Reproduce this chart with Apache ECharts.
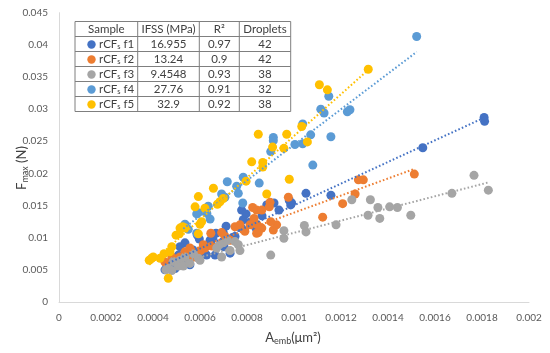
<!DOCTYPE html>
<html><head><meta charset="utf-8">
<script src="https://cdn.jsdelivr.net/npm/echarts@6/dist/echarts.min.js"></script>
<style>html,body{margin:0;padding:0;background:#fff}#c{width:550px;height:353px}</style>
</head><body><div id="c"></div>
<script>
// ---- data ----
const seriesNames = ['rCFs f1', 'rCFs f2', 'rCFs f3', 'rCFs f4', 'rCFs f5'];
const ifss = ['16.955', '13.24', '9.4548', '27.76', '32.9'];
const r2 = ['0.97', '0.9', '0.93', '0.91', '0.92'];
const droplets = ['42', '42', '38', '32', '38'];

const f1 = [[0.001809,0.0287],[0.001811,0.0281],[0.001548,0.0240],[0.001051,0.0169],[0.001157,0.0166],
[0.000980,0.0158],[0.000990,0.0154],[0.000986,0.0151],[0.000915,0.0154],[0.000884,0.0151],
[0.000784,0.0128],[0.000777,0.0115],[0.000749,0.0102],[0.000735,0.0099],[0.000668,0.0107],
[0.000699,0.0108],[0.000643,0.0096],[0.000640,0.0089],[0.000597,0.0098],[0.000536,0.0092],
[0.000628,0.0073],[0.000664,0.0073],[0.000557,0.0058],[0.000494,0.0052],[0.000589,0.0104],
[0.000654,0.0099],[0.000777,0.0143],[0.000728,0.0076],[0.000508,0.0073],[0.000472,0.0062],
[0.000613,0.0078],[0.000702,0.0086],[0.000813,0.0124],[0.000864,0.0134],[0.000838,0.0115],
[0.000936,0.0143],[0.000451,0.0050],[0.000570,0.0081],[0.000711,0.0118],[0.000796,0.0137],
[0.000540,0.0068],[0.000515,0.0086]];
const f2 = [[0.001512,0.0199],[0.001274,0.0190],[0.001295,0.0190],[0.001260,0.0168],[0.001207,0.0153],
[0.001122,0.0132],[0.000976,0.0163],[0.000898,0.0155],[0.000895,0.0148],[0.000824,0.0147],
[0.000841,0.0143],[0.000863,0.0143],[0.000830,0.0130],[0.000844,0.0120],[0.000863,0.0115],
[0.000841,0.0107],[0.000912,0.0112],[0.000926,0.0120],[0.000901,0.0125],[0.000646,0.0107],
[0.000692,0.0108],[0.000706,0.0102],[0.000702,0.0094],[0.000749,0.0117],[0.000770,0.0120],
[0.000813,0.0120],[0.000848,0.0108],[0.000557,0.0084],[0.000536,0.0078],[0.000543,0.0070],
[0.000572,0.0070],[0.000586,0.0070],[0.000603,0.0080],[0.000614,0.0089],[0.000621,0.0084],
[0.000480,0.0070],[0.000494,0.0066],[0.000728,0.0096],[0.000791,0.0110],[0.000651,0.0087],
[0.000451,0.0062],[0.000515,0.0070]];
const f3 = [[0.001766,0.0197],[0.001827,0.0174],[0.001672,0.0169],[0.001246,0.0159],[0.001325,0.0159],
[0.001357,0.0147],[0.001407,0.0148],[0.001440,0.0147],[0.001315,0.0135],[0.001365,0.0130],
[0.001497,0.0135],[0.001179,0.0120],[0.001044,0.0119],[0.001051,0.0109],[0.000957,0.0111],
[0.000957,0.0099],[0.000901,0.0073],[0.000682,0.0089],[0.000671,0.0084],[0.000699,0.0092],
[0.000716,0.0096],[0.000749,0.0094],[0.000763,0.0089],[0.000728,0.0080],[0.000770,0.0080],
[0.000692,0.0070],[0.000572,0.0075],[0.000593,0.0068],[0.000536,0.0070],[0.000515,0.0065],
[0.000486,0.0063],[0.000508,0.0056],[0.000465,0.0052],[0.000455,0.0050],[0.000480,0.0049],
[0.000529,0.0056],[0.000557,0.0060],[0.000600,0.0065]];
const f4 = [[0.001522,0.0413],[0.001148,0.0320],[0.001114,0.0300],[0.001128,0.0294],[0.001227,0.0296],
[0.001238,0.0299],[0.001037,0.0277],[0.001071,0.0260],[0.001037,0.0246],[0.001004,0.0245],
[0.001157,0.0257],[0.001080,0.0213],[0.000912,0.0256],[0.000912,0.0251],[0.000901,0.0234],
[0.000852,0.0185],[0.000716,0.0187],[0.000756,0.0180],[0.000692,0.0168],[0.000706,0.0163],
[0.000763,0.0169],[0.000782,0.0154],[0.000635,0.0149],[0.000593,0.0139],[0.000586,0.0137],
[0.000629,0.0138],[0.000643,0.0129],[0.000536,0.0121],[0.000550,0.0113],[0.000529,0.0117],
[0.000586,0.0107],[0.000784,0.0194]];
const f5 = [[0.001316,0.0362],[0.001108,0.0338],[0.001142,0.0330],[0.001033,0.0273],[0.001057,0.0249],
[0.000969,0.0261],[0.000848,0.0261],[0.000909,0.0241],[0.000957,0.0239],[0.000820,0.0218],
[0.000867,0.0217],[0.000867,0.0210],[0.000980,0.0191],[0.000884,0.0168],[0.000796,0.0188],
[0.000657,0.0177],[0.000593,0.0164],[0.000685,0.0156],[0.000674,0.0152],[0.000579,0.0148],
[0.000621,0.0146],[0.000607,0.0125],[0.000600,0.0121],[0.000526,0.0117],[0.000515,0.0115],
[0.000498,0.0104],[0.000512,0.0106],[0.000593,0.0106],[0.000480,0.0086],[0.000472,0.0078],
[0.000447,0.0075],[0.000430,0.0068],[0.000394,0.0068],[0.000384,0.0065],[0.000401,0.0070],
[0.000465,0.0037],[0.000699,0.0161],[0.000536,0.0115]];

// dotted linear trendlines: endpoints
const trend1 = [[0.000451,0.0058],[0.001811,0.0287]];
const trend2 = [[0.000451,0.0066],[0.001512,0.0207]];
const trend3 = [[0.000455,0.0056],[0.001827,0.0186]];
const trend4 = [[0.000529,0.0114],[0.001522,0.0389]];
const trend5 = [[0.000384,0.0058],[0.001316,0.0361]];

const xTicks = {min: 0, max: 0.002, interval: 0.0002};
const yTicks = {min: 0, max: 0.045, interval: 0.005};

// ---- styles ----
const colors = ['#4472C4', '#ED7D31', '#A5A5A5', '#5B9BD5', '#FFC000'];
const FONT = 'Lato, "Noto Sans", sans-serif';
const chart = echarts.init(document.getElementById('c'), null, {renderer: 'canvas'});

const pts = [f1, f2, f3, f4, f5];
const trends = [trend1, trend2, trend3, trend4, trend5];
const series = [];
pts.forEach((d, i) => series.push({
  name: seriesNames[i], type: 'scatter', data: d, symbol: 'circle', symbolSize: 9,
  itemStyle: {color: colors[i], opacity: 1}, z: 2 + i
}));
trends.forEach((d, i) => series.push({
  type: 'line', data: d, symbol: 'none', silent: true, z: 10,
  lineStyle: {color: colors[i], width: 2, type: [1.6, 2.2]}
}));

// ---- table (graphic) ----
const tL = 75, colX = [75, 137.7, 199.3, 239.3, 290.7], tTop = 21.5, rowH = 15, nRows = 6;
const g = [];
const lineC = '#7f7f7f';
g.push({type: 'rect', shape: {x: tL, y: tTop, width: colX[4] - tL, height: rowH * nRows},
  style: {fill: '#fff', stroke: lineC, lineWidth: 1}, z: 50});
for (let r = 1; r < nRows; r++) g.push({type: 'line', shape: {x1: tL, y1: tTop + r * rowH, x2: colX[4], y2: tTop + r * rowH},
  style: {stroke: lineC, lineWidth: 1}, z: 51});
for (let c = 1; c < 4; c++) g.push({type: 'line', shape: {x1: colX[c], y1: tTop, x2: colX[c], y2: tTop + rowH * nRows},
  style: {stroke: lineC, lineWidth: 1}, z: 51});
const cellText = (txt, cx, cy) => ({type: 'text', x: cx, y: cy, z: 52,
  style: {text: txt, fill: '#404040', font: '11.5px ' + FONT, align: 'center', verticalAlign: 'middle'}});
const subRich = {a: {fontSize: 11.5, fontFamily: 'Lato', fill: '#404040', verticalAlign: 'middle'},
  s: {fontSize: 7.5, fontFamily: 'Lato', fill: '#404040', padding: [5, 0, 0, 0]}};
const hdr = ['Sample', 'IFSS (MPa)', 'R²', 'Droplets'];
hdr.forEach((h, c) => g.push(cellText(h, (colX[c] + colX[c + 1]) / 2, tTop + rowH / 2 + 0.5)));
for (let i = 0; i < 5; i++) {
  const cy = tTop + rowH * (i + 1) + rowH / 2 + 0.5;
  g.push({type: 'circle', shape: {cx: 91.5, cy: cy, r: 4.2}, style: {fill: colors[i]}, z: 52});
  g.push({type: 'text', x: 99, y: cy, z: 52,
    style: {text: '{a|rCF}{s|s}{a| f' + (i + 1) + '}', align: 'left', verticalAlign: 'middle', rich: subRich}});
  g.push(cellText(ifss[i], (colX[1] + colX[2]) / 2, cy));
  g.push(cellText(r2[i], (colX[2] + colX[3]) / 2, cy));
  g.push(cellText(droplets[i], (colX[3] + colX[4]) / 2, cy));
}
// axis titles
g.push({type: 'text', x: 22, y: 168, rotation: Math.PI / 2, z: 52,
  style: {text: '{a|F}{s|max}{a| (N)}', align: 'center', verticalAlign: 'middle',
    rich: {a: {fontSize: 13, fontFamily: 'Lato', fill: '#404040'}, s: {fontSize: 9, fontFamily: 'Lato', fill: '#404040', padding: [6, 0, 0, 0]}}}});
g.push({type: 'text', x: 293, y: 338, z: 52,
  style: {text: '{a|A}{s|emb}{a|(μm²)}', align: 'center', verticalAlign: 'middle',
    rich: {a: {fontSize: 13, fontFamily: 'Lato', fill: '#404040'}, s: {fontSize: 9, fontFamily: 'Lato', fill: '#404040', padding: [6, 0, 0, 0]}}}});

chart.setOption({
  animation: false,
  backgroundColor: '#fff',
  color: colors,
  grid: {left: 59, right: 21, top: 12.7, bottom: 51, containLabel: false},
  xAxis: {type: 'value', min: xTicks.min, max: xTicks.max, interval: xTicks.interval,
    axisLine: {show: true, onZero: false, lineStyle: {color: '#d9d9d9', width: 1}},
    axisTick: {show: false}, splitLine: {show: false},
    axisLabel: {color: '#595959', fontSize: 10, fontFamily: 'Lato', margin: 11,
      formatter: v => String(+v.toFixed(4))}},
  yAxis: {type: 'value', min: yTicks.min, max: yTicks.max, interval: yTicks.interval,
    axisLine: {show: true, onZero: false, lineStyle: {color: '#d9d9d9', width: 1}},
    axisTick: {show: false}, splitLine: {show: false},
    axisLabel: {color: '#595959', fontSize: 10, fontFamily: 'Lato', margin: 11,
      formatter: v => String(+v.toFixed(3))}},
  series: series,
  graphic: g
});
</script></body></html>
